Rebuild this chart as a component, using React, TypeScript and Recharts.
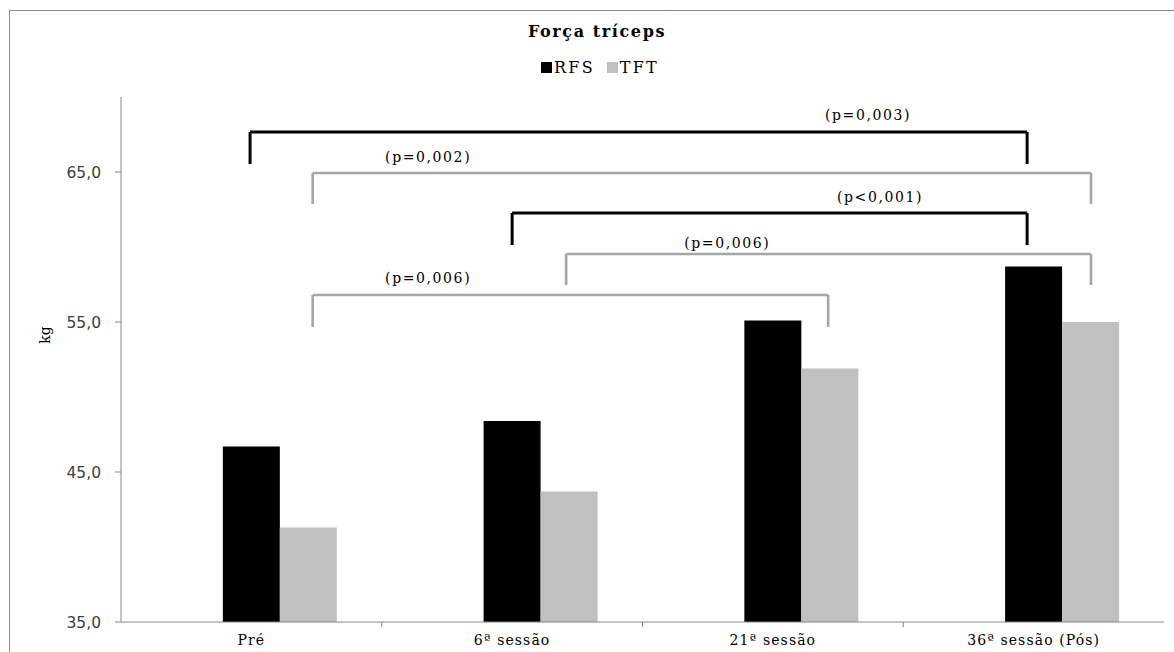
import React from 'react';
import { ComposedChart, Bar, XAxis, YAxis, ReferenceLine, ReferenceDot, Legend } from 'recharts';

const categories = ['Pré', '6ª sessão', '21ª sessão', '36ª sessão (Pós)'];
const rfsValues = [46.7, 48.4, 55.1, 58.7];
const tftValues = [41.3, 43.7, 51.9, 55.0];
const yTicks = [35, 45, 55, 65];
const boundaryTicks = [1, 2, 3];

// comparison brackets (x in category units on a 0..4 scale, y in kg)
const bracketLabels = ['(p=0,003)', '(p=0,002)', '(p<0,001)', '(p=0,006)', '(p=0,006)'];
const bracketSeries = ['RFS', 'TFT', 'RFS', 'TFT', 'TFT'];
const bracketLeft = [0.495, 0.735, 1.5, 1.707, 0.735];
const bracketRight = [3.475, 3.72, 3.475, 3.72, 2.712];
const bracketTop = [67.67, 64.93, 62.27, 59.53, 56.8];
const bracketBottom = [65.53, 62.87, 60.13, 57.47, 54.67];
const labelX = [2.865, 1.178, 2.911, 2.325, 1.178];
const labelY = [68.8, 66.0, 63.33, 60.27, 57.93];

const data = categories.map((name, i) => ({
  name,
  pos: i + 0.5,
  blank: null,
  RFS: rfsValues[i],
  TFT: tftValues[i],
}));

const COLORS: Record<string, string> = { RFS: '#000000', TFT: '#c0c0c0' };
const BRACKET_COLORS: Record<string, string> = { RFS: '#000000', TFT: '#a6a6a6' };
const SERIF = '"DejaVu Serif", "Liberation Serif", serif';

const LegendContent = () => (
  <div style={{ height: 87, width: 1174, position: 'relative', fontFamily: SERIF, color: '#000' }}>
    <div style={{ position: 'absolute', top: 12, left: 20, width: 1154, textAlign: 'center', fontSize: 16, fontWeight: 'bold', letterSpacing: 1.6 }}>
      Força tríceps
    </div>
    <div style={{ position: 'absolute', top: 48, left: 26, width: 1148, display: 'flex', justifyContent: 'center', alignItems: 'center', fontSize: 16, letterSpacing: 2.2 }}>
      {['RFS', 'TFT'].map((k, i) => (
        <div key={k} style={{ display: 'flex', alignItems: 'center', marginLeft: i ? 12 : 0 }}>
          <span style={{ display: 'inline-block', width: 11, height: 11, background: COLORS[k], marginRight: 2 }} />
          <span>{k}</span>
        </div>
      ))}
    </div>
  </div>
);

const XTick = (props: any) => {
  const { x, y, payload } = props;
  return (
    <text x={x} y={y} dy="0.71em" textAnchor="middle" fontFamily={SERIF} fontSize={14} letterSpacing={1.1} fill="#000">
      {payload.value}
    </text>
  );
};

const YTick = (props: any) => {
  const { x, y, payload } = props;
  return (
    <text x={x} y={y} dy="0.355em" textAnchor="end" fontFamily='"DejaVu Sans", sans-serif' fontSize={15.5} fill="#404040">
      {Number(payload.value).toFixed(1).replace('.', ',')}
    </text>
  );
};

export default function App() {
  return (
    <div style={{ position: 'absolute', left: 0, top: 0, width: 1174, height: 652, overflow: 'hidden', background: '#fff' }}>
      <div style={{ position: 'absolute', left: 9, top: 10, width: 1300, height: 800, borderLeft: '1px solid #8c8c8c', borderTop: '1px solid #8c8c8c' }} />
      <div style={{ position: 'absolute', left: 0, top: 0 }}>
        <ComposedChart
          width={1174}
          height={652}
          data={data}
          margin={{ top: 10, right: 10, bottom: 0, left: 0 }}
          barCategoryGap="17.2%"
          barGap={0}
        >
          <Legend
            verticalAlign="top"
            align="left"
            content={<LegendContent />}
            wrapperStyle={{ left: 0, width: 1174, height: 87 }}
          />
          <XAxis
            dataKey="name"
            tickLine={false}
            tickSize={0}
            tickMargin={13}
            height={30}
            axisLine={{ stroke: '#868686', strokeWidth: 1 }}
            tick={<XTick />}
            interval={0}
          />
          <XAxis
            xAxisId="num"
            dataKey="pos"
            type="number"
            scale="linear"
            domain={[0, 4]}
            allowDataOverflow
            hide
          />
          <YAxis
            domain={[35, 70]}
            ticks={yTicks}
            width={121}
            tickSize={6}
            tickMargin={14}
            axisLine={{ stroke: '#868686', strokeWidth: 1 }}
            tickLine={{ stroke: '#868686' }}
            tick={<YTick />}
            allowDataOverflow
            label={{
              content: () => (
                <text x={45} y={335} transform="rotate(-90 45 335)" textAnchor="middle" dominantBaseline="central" fontFamily={SERIF} fontSize={14} fill="#000">
                  kg
                </text>
              ),
            }}
          />
          <Bar dataKey="blank" fill="transparent" legendType="none" isAnimationActive={false} />
          <Bar dataKey="RFS" fill={COLORS.RFS} isAnimationActive={false} />
          <Bar dataKey="TFT" fill={COLORS.TFT} isAnimationActive={false} />
          {boundaryTicks.map((t) => (
            <ReferenceDot
              key={'bt' + t}
              xAxisId="num"
              x={t}
              y={35}
              r={1}
              ifOverflow="visible"
              shape={(p: any) => (
                <line x1={p.cx} x2={p.cx} y1={p.cy} y2={p.cy + 5} stroke="#868686" strokeWidth={1} />
              )}
            />
          ))}
          {bracketLabels.map((lab, i) => {
            const c = BRACKET_COLORS[bracketSeries[i]];
            const sw = bracketSeries[i] === 'RFS' ? 3 : 2.6;
            return [
              <ReferenceLine key={'h' + i} xAxisId="num" segment={[{ x: bracketLeft[i], y: bracketTop[i] }, { x: bracketRight[i], y: bracketTop[i] }]} stroke={c} strokeWidth={sw} ifOverflow="visible" />,
              <ReferenceLine key={'l' + i} xAxisId="num" segment={[{ x: bracketLeft[i], y: bracketTop[i] }, { x: bracketLeft[i], y: bracketBottom[i] }]} stroke={c} strokeWidth={sw} ifOverflow="visible" />,
              <ReferenceLine key={'r' + i} xAxisId="num" segment={[{ x: bracketRight[i], y: bracketTop[i] }, { x: bracketRight[i], y: bracketBottom[i] }]} stroke={c} strokeWidth={sw} ifOverflow="visible" />,
              <ReferenceDot
                key={'t' + i}
                xAxisId="num"
                x={labelX[i]}
                y={labelY[i]}
                r={1}
                ifOverflow="visible"
                shape={(p: any) => (
                  <text x={p.cx} y={p.cy} textAnchor="middle" dominantBaseline="central" fontFamily={SERIF} fontSize={14} letterSpacing={1.6} fill="#000">
                    {lab}
                  </text>
                )}
              />,
            ];
          })}
        </ComposedChart>
      </div>
    </div>
  );
}
